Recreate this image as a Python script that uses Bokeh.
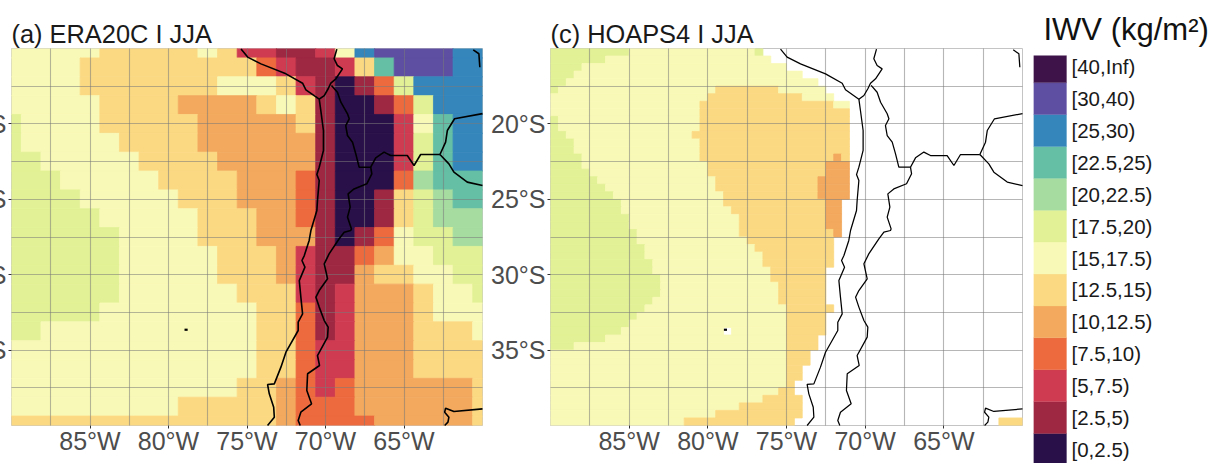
from bokeh.embed import file_html
from bokeh.resources import INLINE
from bokeh.plotting import figure
from bokeh.layouts import row
from bokeh.models import ColumnDataSource, FixedTicker, Range1d
from bokeh.core.properties import value
import numpy as np

FONT = "Liberation Sans"

bin_labels = ["[0,2.5)", "[2.5,5)", "[5,7.5)", "[7.5,10)", "[10,12.5)", "[12.5,15)", "[15,17.5)",
              "[17.5,20)", "[20,22.5)", "[22.5,25)", "[25,30)", "[30,40)", "[40,Inf)"]
bin_colors = ["#2A1049", "#9E2741", "#CF3B50", "#EC6A3E", "#F3A95E", "#FBD983", "#F9F9B7",
              "#E2F195", "#A6DCA0", "#65BFA4", "#3586BB", "#5E4FA2", "#3D1349"]

# ERA20C: IWV bin index per cell (hex digit), north to south, 1.25 degree cells
era20c_rows = [
    "666665555565221126abbbbaa",
    "66665555555553211259bbbaa",
    "666655555556665210137aaaa",
    "6666655554444565100137aaa",
    "76666555554444451000269aa",
    "76666655554444441000279aa",
    "77666665555444441000279aa",
    "7776666655554443100038999",
    "7777666665554443100157899",
    "7777766666555443100157888",
    "7777776666555444101367788",
    "7777776666655542113466777",
    "7777776666655542114556677",
    "7777776666665552124445667",
    "7777766666666553124445666",
    "7766666666666553124445556",
    "6666666666666553224445555",
    "6666666666666553224445555",
    "6666666666665543234444445",
    "6666666665555543334444445",
    "5555555555555543333444445",
]

# HOAPS4: per row (north to south, 0.5 degree cells) the column where each band ends
hoaps_green_end = [10, 7, 4, 3, 2, 1, 0, 0, 0, 1, 1, 2, 3, 3, 4, 4, 5, 6, 7, 8, 9, 9, 10, 10, 11,
                   11, 12, 12, 13, 13, 14, 14, 14, 13, 12, 11, 10, 9, 7, 3,
                   0, 0, 0, 0, 0, 0, 0, 0, 0, 0]
hoaps_yellow_start = [27, 28, 30, 32, 34, 21, 20, 19, 19, 19, 19, 18, 19, 19, 19, 20, 20, 21, 21, 22,
                      22, 23, 24, 24, 24, 25, 26, 27, 27, 28, 28, 29, 29, 29, 30, 30, 30, 30, 30, 30,
                      30, 30, 30, 30, 30, 29, 27, 24, 21, 17]
hoaps_yellow_end = [27, 28, 30, 32, 34, 29, 32, 36, 38, 38, 38, 38, 38, 38, 38, 38, 38, 38, 38, 38,
                    37, 37, 37, 37, 37, 36, 36, 36, 36, 35, 35, 35, 35, 35, 36, 35, 35, 35, 34, 34,
                    33, 33, 32, 32, 31, 31, 32, 32, 32, 31]
hoaps_pale_end = [27, 28, 30, 32, 34, 35, 36, 38, 38, 38, 38, 38, 38, 38, 38, 38, 38, 38, 38, 38,
                  37, 37, 37, 37, 37, 36, 36, 36, 36, 35, 35, 35, 35, 35, 36, 35, 35, 35, 34, 34,
                  33, 33, 32, 32, 31, 31, 32, 32, 32, 31]
hoaps_orange_rows = [14, 15, 16, 17, 18, 19, 20, 21, 22, 23, 24]
hoaps_orange_start = [36, 35, 35, 34, 34, 34, 35, 35, 35, 35, 36]
hoaps_orange_end = [37, 38, 38, 38, 38, 38, 37, 37, 37, 37, 37]

# Map lines, lon / lat
coast_lon = [-75.38, -74.96, -74.11, -72.52, -71.46, -71.25, -70.40, -70.30, -70.13, -70.13, -70.40, -70.55, -70.40,
             -70.51, -70.55, -70.93, -71.04, -71.35, -71.50, -71.31, -71.67, -71.57, -71.46, -71.74, -71.74, -72.52,
             -72.84, -73.26, -73.69, -73.58, -73.30, -73.26, -73.69]
coast_lat = [-15.04, -15.57, -16.02, -16.68, -17.30, -17.74, -18.36, -19.11, -20.44, -21.76, -22.87, -23.36, -23.75,
             -25.08, -25.74, -27.07, -27.73, -28.73, -29.06, -29.50, -30.39, -31.49, -32.60, -33.15, -33.70, -35.14,
             -36.13, -37.24, -37.28, -37.90, -38.79, -39.45, -40.00]
peru_lon = [-69.28, -69.45, -69.24, -68.92, -69.34, -69.66, -69.83, -70.08, -70.40]
peru_lat = [-15.04, -15.68, -16.13, -16.35, -17.01, -17.30, -17.67, -18.12, -18.36]
chile_bo_lon = [-69.62, -69.24, -69.02, -68.60, -68.49, -68.71, -68.60, -68.28, -68.07, -67.86, -67.12]
chile_bo_lat = [-17.45, -17.90, -18.56, -19.33, -19.66, -20.11, -20.77, -21.21, -21.99, -22.87, -22.87]
chile_ar_lon = [-67.12, -67.05, -67.37, -68.18, -68.56, -68.43, -68.60, -68.35, -68.39, -68.81, -69.13, -69.77, -70.08,
                -69.87, -70.40, -70.61, -70.40, -70.08, -69.83, -69.87, -70.51, -70.38, -71.14, -71.19, -70.89, -71.57,
                -71.74, -71.61]
chile_ar_lat = [-22.87, -23.31, -23.97, -24.31, -24.64, -25.52, -26.18, -26.96, -27.07, -27.18, -27.62, -28.62, -29.28,
                -30.27, -31.05, -31.49, -32.15, -33.04, -33.48, -34.14, -35.36, -36.02, -36.57, -37.68, -38.56, -39.12,
                -39.67, -40.00]
bo_ar_lon = [-67.12, -66.80, -66.27, -65.85, -64.79, -64.36, -63.94, -62.71]
bo_ar_lat = [-22.87, -22.25, -21.87, -22.10, -22.10, -22.76, -22.03, -22.03]
bo_py_lon = [-62.71, -62.35, -62.24, -61.78, -60.0]
bo_py_lat = [-22.03, -21.21, -20.44, -19.66, -19.32]
ar_py_lon = [-62.71, -62.14, -61.82, -60.97, -60.0]
ar_py_lat = [-22.03, -22.65, -23.20, -23.86, -24.09]
bo_br_lon = [-60.59, -60.23, -60.17]
bo_br_lat = [-15.09, -15.35, -16.24]
plata_lon = [-60.0, -61.82, -62.35, -62.41, -62.14, -62.20, -62.41]
plata_lat = [-38.90, -39.07, -38.85, -39.12, -39.45, -39.78, -40.00]
island_lon = [-78.98, -78.78]
island_lat = [-33.65, -33.65]
map_lines = [(coast_lon, coast_lat), (peru_lon, peru_lat), (chile_bo_lon, chile_bo_lat), (chile_ar_lon, chile_ar_lat),
             (bo_ar_lon, bo_ar_lat), (bo_py_lon, bo_py_lat), (ar_py_lon, ar_py_lat), (bo_br_lon, bo_br_lat),
             (plata_lon, plata_lat)]

grid_ticks = [-87.5, -85, -82.5, -80, -77.5, -75, -72.5, -70, -67.5, -65, -62.5]
lat_grid = [-17.5, -20, -22.5, -25, -27.5, -30, -32.5, -35, -37.5]
lon_ticks = [-85, -80, -75, -70, -65]
lon_tick_labels = ["85°W", "80°W", "75°W", "70°W", "65°W"]
lat_ticks = [-20, -25, -30, -35]
lat_tick_labels = ["20°S", "25°S", "30°S", "35°S"]


def runs_source(grid, lefts, rights, tops, bottoms):
    d = dict(left=[], right=[], top=[], bottom=[], color=[])
    for r, line in enumerate(grid):
        c = 0
        n = len(line)
        while c < n:
            e = c
            while e < n and line[e] == line[c]:
                e += 1
            if line[c] >= 0:
                d["left"].append(lefts[c])
                d["right"].append(rights[e - 1])
                d["top"].append(tops[r])
                d["bottom"].append(bottoms[r])
                d["color"].append(bin_colors[line[c]])
            c = e
    return ColumnDataSource(d)


def panel(title, src, width, line_width):
    p = figure(width=width, height=463, output_backend="svg", toolbar_location=None,
               x_range=Range1d(-90, -60), y_range=Range1d(-40, -15),
               min_border_left=64, min_border_right=4, min_border_top=48, min_border_bottom=38,
               background_fill_color="white", title=title, frame_align=False)
    p.title.text_font = FONT
    p.title.text_font_size = "25.4px"
    p.title.text_font_style = "normal"
    p.title.text_color = "#1a1a1a"
    p.title.align = "left"
    p.title.offset = 0
    p.title.standoff = 1
    p.quad(left="left", right="right", top="top", bottom="bottom", source=src,
           fill_color="color", line_color="color", line_width=0.8)
    for lo, la in map_lines:
        p.line(lo, la, line_color="black", line_width=line_width, level="annotation")
    p.line(island_lon, island_lat, line_color="black", line_width=2.2, level="annotation")
    p.xgrid.ticker = FixedTicker(ticks=grid_ticks)
    p.ygrid.ticker = FixedTicker(ticks=lat_grid)
    for g in (p.xgrid, p.ygrid):
        g.level = "guide"
        g.grid_line_color = "#7a7a7a"
        g.grid_line_alpha = 0.55
        g.grid_line_width = 1.1
    p.xaxis.ticker = FixedTicker(ticks=lon_ticks)
    p.xaxis.major_label_overrides = dict(zip(lon_ticks, lon_tick_labels))
    p.yaxis.ticker = FixedTicker(ticks=lat_ticks)
    p.yaxis.major_label_overrides = dict(zip(lat_ticks, lat_tick_labels))
    for ax in (p.xaxis, p.yaxis):
        ax.axis_line_color = None
        ax.major_tick_line_color = "#333333"
        ax.major_tick_line_width = 1
        ax.major_tick_in = 0
        ax.major_tick_out = 3
        ax.minor_tick_line_color = None
        ax.major_label_text_font = FONT
        ax.major_label_text_font_size = "25px"
        ax.major_label_text_color = "#4D4D4D"
        ax.major_label_standoff = 2
    p.xaxis.major_label_standoff = -2
    p.yaxis.major_label_orientation = "horizontal"
    p.outline_line_color = "#c4c4c4"
    p.outline_line_width = 1
    return p


# ERA20C
era_grid = [[int(ch, 16) for ch in s] for s in era20c_rows]
assert all(len(r) == 25 for r in era_grid) and len(era_grid) == 21
era_lon = -90 + 1.25 * np.arange(25)
era_lat = -15 - 1.25 * np.arange(21)
era_src = runs_source(era_grid, list(era_lon - 0.625), list(era_lon + 0.625), list(era_lat + 0.625), list(era_lat - 0.625))
p1 = panel("(a) ERA20C I JJA", era_src, 539, 1.6)
p1.margin = (0, 0, 0, -53)

# HOAPS4
hg = -np.ones((50, 60), dtype=int)
for r in range(50):
    hg[r, :hoaps_pale_end[r]] = 6
    hg[r, :hoaps_green_end[r]] = 7
    hg[r, hoaps_yellow_start[r]:hoaps_yellow_end[r]] = 5
for r, a, b in zip(hoaps_orange_rows, hoaps_orange_start, hoaps_orange_end):
    hg[r, a:b] = 4
hg[0, 26] = 7
hg[37, 22] = -1
hg[49, 57:60] = 5
h_lon = -90 + 0.5 * np.arange(61)
h_lat = -15 - 0.5 * np.arange(51)
h_src = runs_source(hg.tolist(), list(h_lon[:-1]), list(h_lon[1:]), list(h_lat[:-1]), list(h_lat[1:]))
p2 = panel("(c) HOAPS4 I JJA", h_src, 540, 1.25)

# Legend
k = np.arange(13)
p3 = figure(width=184, height=463, output_backend="svg", toolbar_location=None,
            x_range=Range1d(0, 177), y_range=Range1d(0.06, 0.06 + 408 / 31.9),
            min_border_left=7, min_border_right=0, min_border_top=55, min_border_bottom=0,
            x_axis_location=None, y_axis_location=None, outline_line_color=None, title="IWV (kg/m²)",
            frame_align=False)
p3.title.text_font = FONT
p3.title.text_font_size = "31px"
p3.title.text_font_style = "normal"
p3.title.text_color = "#111111"
p3.title.align = "left"
p3.title.offset = 10
p3.title.standoff = 18
p3.grid.visible = False
p3.quad(left=0, right=33, bottom=k, top=k + 1, fill_color=bin_colors, line_color=bin_colors, line_width=0.3)
p3.text(x=38, y=k + 0.5, text=bin_labels, text_font=value(FONT), text_font_size="20.5px",
        text_color="#1a1a1a", text_baseline="middle", text_align="left")

layout = row(p1, p2, p3, spacing=0)
open("out.html", "w").write(file_html(layout, INLINE))
